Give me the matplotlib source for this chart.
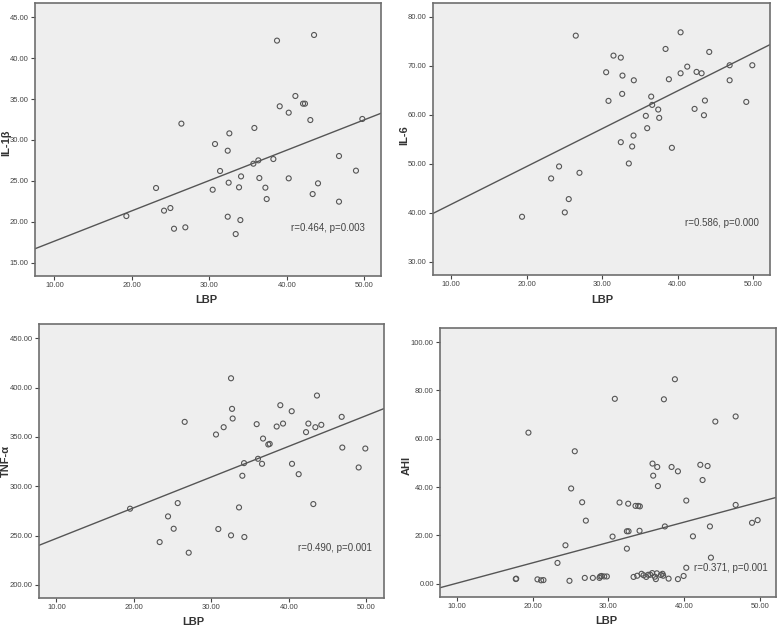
import numpy as np
import matplotlib
matplotlib.use("Agg")
import matplotlib.pyplot as plt

# ---------------- data ----------------
il1b_lbp = [19.29, 23.12, 24.15, 24.97, 25.44, 26.90, 26.39, 30.43, 30.73, 31.38,
            32.37, 32.58, 32.49, 32.37, 33.40, 33.83, 34.09, 34.00, 35.81, 35.68,
            36.32, 36.45, 37.23, 37.40, 38.26, 38.73, 39.08, 40.24, 40.24, 41.10,
            42.09, 42.34, 43.03, 43.33, 43.51, 44.02, 46.73, 46.73, 48.92, 49.74]
il1b_val = [20.70, 24.13, 21.36, 21.68, 19.15, 19.32, 32.00, 23.92, 29.51, 26.21,
            28.69, 30.81, 24.78, 20.62, 18.50, 24.21, 25.55, 20.21, 31.47, 27.10,
            27.51, 25.35, 24.17, 22.78, 27.67, 42.15, 34.12, 33.34, 25.31, 35.38,
            34.44, 34.44, 32.44, 23.39, 42.84, 24.70, 28.04, 22.46, 26.25, 32.57]

il6_lbp = [19.40, 23.25, 24.30, 25.06, 25.58, 27.00, 26.51, 30.53, 30.84, 31.50,
           32.47, 32.65, 32.69, 32.47, 33.53, 33.97, 34.15, 34.19, 35.78, 35.96,
           36.49, 36.62, 37.42, 37.55, 38.39, 38.83, 39.23, 40.38, 40.38, 41.26,
           42.23, 42.49, 43.16, 43.47, 43.60, 44.17, 46.87, 46.87, 49.07, 49.87]
il6_val = [39.18, 47.01, 49.46, 40.07, 42.79, 48.16, 76.19, 68.71, 62.86, 72.11,
           71.70, 64.29, 68.03, 54.42, 50.07, 53.54, 55.78, 67.07, 59.80, 57.28,
           63.74, 62.04, 61.09, 59.39, 73.47, 67.28, 53.27, 76.87, 68.50, 69.86,
           61.22, 68.78, 68.50, 59.93, 62.93, 72.86, 70.14, 67.07, 62.65, 70.14]

tnf_lbp = [19.51, 24.41, 25.66, 25.14, 23.33, 27.08, 26.56, 30.60, 30.90, 31.59,
           32.54, 32.67, 32.75, 32.54, 33.57, 34.00, 34.22, 34.26, 35.85, 36.02,
           36.54, 36.67, 37.35, 37.53, 38.43, 38.90, 39.25, 40.37, 40.41, 41.27,
           42.22, 42.52, 43.16, 43.42, 43.63, 44.19, 46.82, 46.90, 49.01, 49.87]
tnf_val = [277.3, 269.5, 283.0, 257.0, 243.5, 232.7, 365.3, 352.5, 256.7, 359.9,
           409.5, 378.5, 368.7, 250.3, 278.6, 310.7, 323.5, 248.6, 363.0, 327.9,
           322.8, 348.4, 342.4, 343.0, 360.6, 382.2, 363.6, 376.1, 322.8, 312.3,
           354.9, 363.6, 282.0, 359.9, 392.0, 362.3, 370.4, 339.3, 319.1, 338.3]

ahi_lbp = [17.79, 17.85, 19.46, 20.65, 21.13, 21.44, 23.29, 24.34, 25.09, 24.87,
           25.57, 26.54, 26.89, 27.03, 27.95, 28.83, 28.92, 29.09, 29.45, 29.80,
           30.55, 30.85, 31.47, 32.44, 32.44, 32.66, 32.61, 33.32, 33.58, 33.93,
           34.15, 34.11, 33.80, 34.37, 34.64, 34.99, 35.25, 35.52, 35.78, 35.82,
           35.91, 36.13, 36.26, 36.39, 36.44, 36.53, 36.92, 37.14, 37.23, 37.32,
           37.45, 37.94, 38.33, 38.77, 39.17, 39.17, 39.92, 40.27, 40.27, 41.15,
           42.12, 42.42, 43.08, 43.39, 43.52, 44.10, 46.78, 46.78, 48.94, 49.68]
ahi_val = [1.94, 2.10, 62.5, 1.8, 1.4, 1.5, 8.6, 15.9, 39.4, 1.2,
           54.8, 33.7, 2.4, 26.1, 2.4, 2.4, 3.0, 3.2, 3.0, 3.0,
           19.5, 76.5, 33.6, 14.5, 21.7, 21.7, 33.1, 2.8, 32.2, 32.2,
           32.0, 21.9, 3.3, 4.1, 3.5, 2.8, 3.7, 3.7, 4.4, 49.7,
           44.7, 2.9, 1.9, 4.3, 48.3, 40.4, 3.6, 4.1, 3.3, 76.3,
           23.7, 2.1, 48.3, 84.6, 1.9, 46.5, 3.2, 6.6, 34.4, 19.6,
           49.2, 42.9, 48.7, 23.7, 10.8, 67.1, 69.2, 32.6, 25.2, 26.3]

# fit lines as drawn in the reference (intercept, slope)
fit_il1b = [13.92, 0.371]
fit_il6 = [33.97, 0.7735]
fit_tnf = [216.04, 3.113]
fit_ahi = [-8.24, 0.843]

stat_texts = ["r=0.464, p=0.003", "r=0.586, p=0.000", "r=0.490, p=0.001", "r=0.371, p=0.001"]
y_labels = ["IL-1β", "IL-6", "TNF-α", "AHI"]
x_label = "LBP"
x_ticks = [10, 20, 30, 40, 50]

panels = [
    dict(x=il1b_lbp, y=il1b_val, fit=fit_il1b, yticks=[15, 20, 25, 30, 35, 40, 45],
         ylim=(13.37, 46.75), xlim=(7.5, 52.15),
         rect=(35, 3, 381, 276), txt=(328, 228), ylab=(6, 143), xlab=(206, 300)),
    dict(x=il6_lbp, y=il6_val, fit=fit_il6, yticks=[30, 40, 50, 60, 70, 80],
         ylim=(27.28, 82.86), xlim=(7.62, 52.21),
         rect=(433, 3, 770, 275), txt=(722, 223), ylab=(404, 135), xlab=(602, 300)),
    dict(x=tnf_lbp, y=tnf_val, fit=fit_tnf, yticks=[200, 250, 300, 350, 400, 450],
         ylim=(186.8, 464.5), xlim=(7.76, 52.28),
         rect=(39, 324, 384, 598), txt=(335, 548), ylab=(6, 461), xlab=(193, 622)),
    dict(x=ahi_lbp, y=ahi_val, fit=fit_ahi, yticks=[0, 20, 40, 60, 80, 100],
         ylim=(-5.5, 105.8), xlim=(7.8, 52.1),
         rect=(440, 328, 776, 597), txt=(731, 568), ylab=(407, 465), xlab=(606, 621)),
]

W, H = 778, 629
fig = plt.figure(figsize=(W / 100, H / 100), dpi=100)
fig.patch.set_facecolor("white")
FONT = "Liberation Sans"

edge = "#6e6e6e"
for i, p in enumerate(panels):
    l, t, r, b = p["rect"]
    ax = fig.add_axes([l / W, 1 - b / H, (r - l) / W, (b - t) / H])
    ax.set_facecolor("#eeeeee")
    x = np.array(p["x"]); y = np.array(p["y"])
    ax.scatter(x, y, s=13, facecolors="none", edgecolors="#555555", linewidths=0.8, zorder=3)
    c, k = p["fit"]
    xs = np.array(p["xlim"])
    ax.plot(xs, k * xs + c, color="#555555", lw=1.0, zorder=2)
    ax.set_xlim(*p["xlim"]); ax.set_ylim(*p["ylim"])
    ax.set_xticks(x_ticks)
    ax.set_xticklabels([f"{v:.2f}" for v in x_ticks], fontfamily=FONT)
    ax.set_yticks(p["yticks"])
    ax.set_yticklabels([f"{v:.2f}" for v in p["yticks"]], fontfamily=FONT)
    ax.tick_params(labelsize=5.5, colors="#444444", length=3, width=0.8, pad=1.5)
    for s in ax.spines.values():
        s.set_color(edge); s.set_linewidth(1.2)
    lx, ly = p["xlab"]
    fig.text(lx / W, 1 - ly / H, x_label, fontsize=8, fontweight="bold", color="#333333",
             ha="center", va="center", family=FONT)
    yx, yy = p["ylab"]
    fig.text(yx / W, 1 - yy / H, y_labels[i], fontsize=8, fontweight="bold", color="#333333",
             ha="center", va="center", rotation=90, family=FONT)
    tx, ty = p["txt"]
    fig.text(tx / W, 1 - ty / H, stat_texts[i], fontsize=7, color="#444444",
             ha="center", va="center", family=FONT)

fig.savefig("out.png", dpi=100, facecolor="white")
